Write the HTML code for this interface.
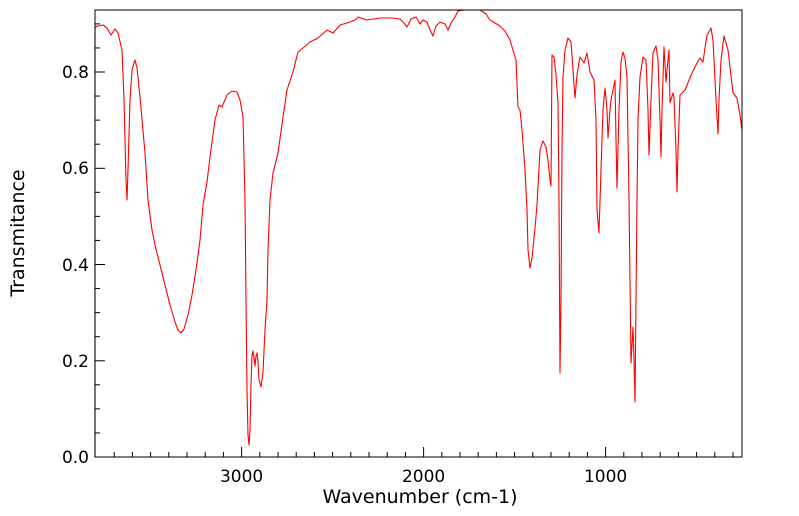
<!DOCTYPE html>
<html><head><style>
html,body{margin:0;padding:0;background:#fff;}
svg{display:block;font-family:"DejaVu Sans","Liberation Sans",sans-serif;}
</style></head><body>
<svg width="799" height="516" viewBox="0 0 799 516" xmlns="http://www.w3.org/2000/svg">
<rect x="0" y="0" width="799" height="516" fill="#fff"/>
<g stroke="#000" stroke-width="1">
<line x1="241.6" y1="457" x2="241.6" y2="447"/>
<line x1="423.6" y1="457" x2="423.6" y2="447"/>
<line x1="605.6" y1="457" x2="605.6" y2="447"/>
<line x1="95" y1="457" x2="105" y2="457"/>
<line x1="95" y1="360.8" x2="105" y2="360.8"/>
<line x1="95" y1="264.5" x2="105" y2="264.5"/>
<line x1="95" y1="168.3" x2="105" y2="168.3"/>
<line x1="95" y1="72" x2="105" y2="72"/>
</g>
<g id="xminor" stroke="#000" stroke-width="1"></g>
<g id="yminor" stroke="#000" stroke-width="1"></g>
<script>
(function(){
var ns="http://www.w3.org/2000/svg";
var gx=document.getElementById("xminor");
for(var w=3700;w>=300;w-=100){ if(w%1000===0) continue;
 var x=605.6+(1000-w)*0.182; var l=document.createElementNS(ns,"line");
 l.setAttribute("x1",x);l.setAttribute("x2",x);l.setAttribute("y1",457);l.setAttribute("y2",452);gx.appendChild(l);}
var gy=document.getElementById("yminor");
for(var i=1;i<19;i++){ if(i%4===0) continue; var y=457-i*0.05*481.25;
 var l=document.createElementNS(ns,"line");
 l.setAttribute("x1",95);l.setAttribute("x2",100);l.setAttribute("y1",y);l.setAttribute("y2",y);gy.appendChild(l);}
})();
</script>
<polyline fill="none" stroke="#ff0000" stroke-width="1.1" stroke-linejoin="round" points="
95,457 95,28 97,26 103,25 107,28 111,35 115,29 118,33 122,50 124,100 126,180 127,200 128,170 130,100 132,70 135,60 137,68 140,97 145,153 148,200 152,230 155,245 160,265 165,285 170,305 175,322 178,330 181,333 184,329 188,315 192,295 196,270 200,240 203,205 207,182 210,157 215,120 219,105 222,107 227,95 232,91 237,92 240,100 243,117 245,200 246,300 247,390 248,435 249,445 250,430 251,385 252,355 253,351 254,358 255,366 256,356 257,353 258,362 259,380 261,387 263,372 265,330 267,300 268,250 270,200 273,173 278,153 283,117 287,90 293,72 298,52 303,48 310,42 318,38 327,30 333,33 340,25 347,23 355,20 358,17 367,20 380,18 392,18 400,19 404,23 407,27 411,19 416,17 420,24 423,20 427,22 430,30 433,36 436,26 440,22 445,24 448,30 451,23 455,17 458,11 465,10 480,10 486,14 490,20 495,23 500,26 505,31 510,40 513,50 516,60 518,107 520,110 522,130 523,143 525,170 527,210 528,250 530,268 532,258 535,228 537,205 540,150 543,141 546,147 548,160 550,180 551,186 552,55 554,57 556,75 558,103 559,200 560,373 561,300 562,150 563,77 565,50 568,38 571,42 573,70 575,98 577,75 580,57 584,63 587,53 590,72 594,80 596,120 597,210 599,233 601,170 603,110 605,88 607,110 608,138 610,110 611,100 615,80 616,140 617,188 619,110 621,62 623,52 625,58 627,77 629,200 631,363 633,327 634,360 635,402 636,300 637,200 638,120 640,77 643,57 646,60 648,110 649,155 651,100 653,53 656,46 658,60 660,120 661,157 662,110 664,47 666,82 667,70 669,50 670,103 673,93 674,98 676,150 677,192 678,150 680,95 685,90 692,73 697,63 700,58 703,62 705,48 707,35 710,30 711,28 713,40 716,100 718,134 719,100 721,60 724,36 728,50 733,93 737,98 740,115 742,130"/>
<rect x="95" y="10" width="647" height="447" fill="none" stroke="#000" stroke-width="1"/>
<g font-size="17" fill="#000">
<text x="241.6" y="482" text-anchor="middle">3000</text>
<text x="423.6" y="482" text-anchor="middle">2000</text>
<text x="605.6" y="482" text-anchor="middle">1000</text>
<text x="89" y="463" text-anchor="end">0.0</text>
<text x="89" y="367" text-anchor="end">0.2</text>
<text x="89" y="271" text-anchor="end">0.4</text>
<text x="89" y="174" text-anchor="end">0.6</text>
<text x="89" y="78" text-anchor="end">0.8</text>
<text x="420" y="503" text-anchor="middle" font-size="19">Wavenumber (cm-1)</text>
<text transform="translate(24,233) rotate(-90)" text-anchor="middle" font-size="19">Transmitance</text>
</g>
</svg>
</body></html>
